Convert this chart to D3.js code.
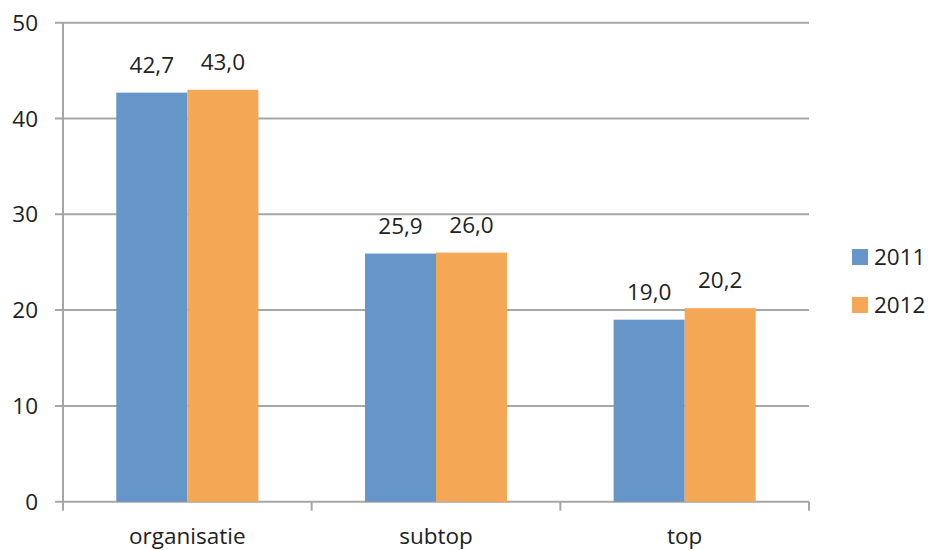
<!DOCTYPE html>
<html>
<head>
<meta charset="utf-8">
<script src="https://cdn.jsdelivr.net/npm/d3@7"></script>
<style>
  body { margin: 0; background: #fff; }
  text { font-family: "Open Sans", "Noto Sans", sans-serif; fill: #222; }
</style>
</head>
<body>
<div id="chart"></div>
<script>
const categories = ["organisatie", "subtop", "top"];
const seriesNames = ["2011", "2012"];
const values2011 = [42.7, 25.9, 19.0];
const values2012 = [43.0, 26.0, 20.2];
const yTicks = [0, 10, 20, 30, 40, 50];

const width  = 928;
const height = 550;
const margin = { top: 22.7, right: 119, bottom: 48.3, left: 63 };
const colors = ["#6595c9", "#f4a755"];
const gridColor = "#a6a6a6";
const fontSize = 22.5;

const fmt = v => d3.format(".1f")(v).replace(".", ",");

const svg = d3.select("#chart").append("svg")
  .attr("width", width)
  .attr("height", height);

const x0 = d3.scaleBand()
  .domain(categories)
  .range([margin.left, width - margin.right])
  .paddingInner(0)
  .paddingOuter(0);

// Excel style: gap width 150% -> each side gets 0.75 bar
const barW = x0.bandwidth() / 3.5;
const x1 = d3.scaleBand()
  .domain(seriesNames)
  .range([barW * 0.75, barW * 2.75]);

const y = d3.scaleLinear()
  .domain([0, 50])
  .range([height - margin.bottom, margin.top]);

// gridlines
svg.append("g")
  .selectAll("line")
  .data(yTicks)
  .enter().append("line")
  .attr("x1", margin.left - 8)
  .attr("x2", width - margin.right)
  .attr("y1", d => y(d))
  .attr("y2", d => y(d))
  .attr("stroke", gridColor)
  .attr("stroke-width", 2);

// y axis line
svg.append("line")
  .attr("x1", margin.left).attr("x2", margin.left)
  .attr("y1", y(50)).attr("y2", y(0))
  .attr("stroke", gridColor).attr("stroke-width", 2);

// y tick labels
svg.append("g")
  .selectAll("text")
  .data(yTicks)
  .enter().append("text")
  .attr("x", margin.left - 25)
  .attr("y", d => y(d))
  .attr("dy", "0.36em")
  .attr("text-anchor", "end")
  .attr("font-size", fontSize)
  .text(d => d);

// x axis ticks at band edges
const edges = categories.map(c => x0(c)).concat([x0(categories[2]) + x0.bandwidth()]);
svg.append("g")
  .selectAll("line")
  .data(edges)
  .enter().append("line")
  .attr("x1", d => d).attr("x2", d => d)
  .attr("y1", y(0)).attr("y2", y(0) + 9)
  .attr("stroke", gridColor).attr("stroke-width", 2);

// category labels
svg.append("g")
  .selectAll("text")
  .data(categories)
  .enter().append("text")
  .attr("x", d => x0(d) + x0.bandwidth() / 2)
  .attr("y", y(0) + 42)
  .attr("text-anchor", "middle")
  .attr("font-size", fontSize)
  .text(d => d);

// bars
const data = categories.map((c, i) => ({
  cat: c,
  vals: [
    { s: seriesNames[0], v: values2011[i] },
    { s: seriesNames[1], v: values2012[i] }
  ]
}));

const groups = svg.append("g")
  .selectAll("g")
  .data(data)
  .enter().append("g")
  .attr("transform", d => `translate(${x0(d.cat)},0)`);

groups.selectAll("rect")
  .data(d => d.vals)
  .enter().append("rect")
  .attr("x", d => x1(d.s))
  .attr("width", x1.bandwidth())
  .attr("y", d => y(d.v))
  .attr("height", d => y(0) - y(d.v))
  .attr("fill", (d, i) => colors[i]);

groups.selectAll("text")
  .data(d => d.vals)
  .enter().append("text")
  .attr("x", d => x1(d.s) + x1.bandwidth() / 2)
  .attr("y", d => y(d.v) - 20)
  .attr("text-anchor", "middle")
  .attr("font-size", fontSize)
  .text(d => fmt(d.v));

// legend
const legend = svg.append("g")
  .selectAll("g")
  .data(seriesNames)
  .enter().append("g")
  .attr("transform", (d, i) => `translate(852,${249 + i * 48})`);

legend.append("rect")
  .attr("width", 16).attr("height", 16)
  .attr("fill", (d, i) => colors[i]);

legend.append("text")
  .attr("x", 22)
  .attr("y", 8)
  .attr("dy", "0.36em")
  .attr("font-size", fontSize)
  .text(d => d);
</script>
</body>
</html>
